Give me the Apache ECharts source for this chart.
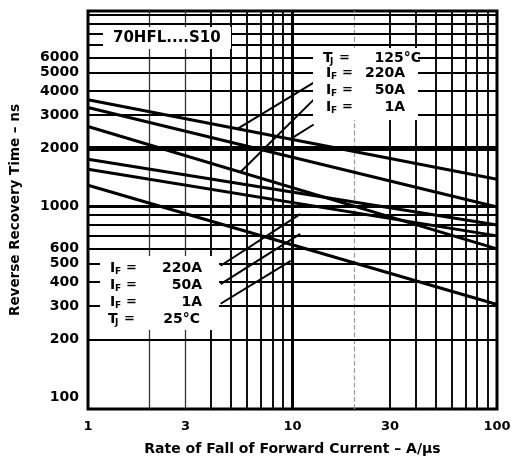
<!DOCTYPE html>
<html><head><meta charset="utf-8">
<script src="https://cdn.jsdelivr.net/npm/echarts@6/dist/echarts.min.js"></script>
<style>html,body{margin:0;padding:0;background:#fff}#c{width:511px;height:461px}</style>
</head><body><div id="c"></div>
<script>
// ---- data ----
const xTickLabels = [1, 3, 10, 30, 100];
const xGridThin = [2, 3];
const xGridFaint = [20];
const xGridNormal = [4, 5, 6, 7, 8, 9, 30, 40, 50, 60, 70, 80, 90];
const xGridThick = [10];
const xEdges = [1, 100];
const yTickLabels = [100, 200, 300, 400, 500, 600, 1000, 2000, 3000, 4000, 5000, 6000];
const yGridNormal = [200, 300, 400, 500, 600, 700, 800, 900, 3000, 4000, 5000, 6000, 7000, 8000, 9000, 10000];
const yGridMid = [1000];
const yGridThick = [2000];
const yEdge = [100];
// rate of fall of forward current (A/us) at the two ends of each straight log-log line
const rate = [1, 100];
// reverse recovery time (ns)
const curve1 = [3606, 1383];
const curve2 = [3281, 988];
const curve3 = [2610, 597];
const curve4 = [1758, 796];
const curve5 = [1559, 698];
const curve6 = [1286, 305];
// leader lines: [rate, time] pairs
const leaderUp220 = [[12.7, 4426], [5.4, 2541]];
const leaderUp50 = [[12.7, 3606], [5.57, 1507]];
const leaderUp1 = [[12.7, 2672], [9.8, 2245]];
const leaderLo220 = [[4.45, 487], [10.9, 908]];
const leaderLo50 = [[4.45, 390], [10.9, 715]];
const leaderLo1 = [[4.45, 308], [9.8, 517]];

// ---- chart ----
const chart = echarts.init(document.getElementById('c'), null, {renderer: 'canvas'});
const FONT = 'DejaVu Sans';
const lbl = {fontFamily: FONT, fontWeight: 'bold', color: '#000'};

function vLines(vals, style, showLabel) {
  return vals.map(v => ({xAxis: v, lineStyle: style,
    label: {show: showLabel && xTickLabels.includes(v)}}));
}
function hLines(vals, style) {
  return vals.map(v => ({yAxis: v, lineStyle: style,
    label: {show: yTickLabels.includes(v)}}));
}
const curves = [curve1, curve2, curve3, curve4, curve5, curve6].map(c => ({
  type: 'line', data: rate.map((r, i) => [r, c[i]]), symbol: 'none',
  lineStyle: {color: '#000', width: 3}, z: 5, animation: false
}));
const leaders = [leaderUp220, leaderUp50, leaderUp1, leaderLo220, leaderLo50, leaderLo1].map(d => ({
  type: 'line', data: d, symbol: 'none', lineStyle: {color: '#000', width: 2}, z: 5, animation: false
}));

const option = {
  animation: false,
  backgroundColor: '#fff',
  grid: {left: 87, right: 14, top: 11, bottom: 50, show: true, borderColor: '#000', borderWidth: 3, backgroundColor: 'transparent'},
  xAxis: {type: 'log', logBase: 10, min: 1, max: 100,
    axisLabel: {show: false}, axisTick: {show: false}, splitLine: {show: false}, axisLine: {show: false},
    name: 'Rate of Fall of Forward Current \u2013 A/\u00b5s', nameLocation: 'middle', nameGap: 33,
    nameTextStyle: Object.assign({fontSize: 14}, lbl)},
  yAxis: {type: 'log', logBase: 10, min: 86.6, max: 10500,
    axisLabel: {show: false}, axisTick: {show: false}, splitLine: {show: false}, axisLine: {show: false},
    name: 'Reverse Recovery Time \u2013 ns', nameLocation: 'middle', nameGap: 66, nameRotate: 90,
    nameTextStyle: Object.assign({fontSize: 13.5}, lbl)},
  series: [
    {type: 'line', data: [], silent: true, z: 2,
      markLine: {silent: true, symbol: 'none', animation: false,
        label: Object.assign({position: 'start', distance: 11, fontSize: 13, formatter: p => String(p.value)}, lbl),
        data: [].concat(
          vLines(xGridThin, {color: '#333', width: 1.3, type: 'solid'}, true),
          vLines(xGridFaint, {color: '#999', width: 1.2, type: 'dashed'}, true),
          vLines(xGridNormal, {color: '#111', width: 2, type: 'solid'}, true),
          vLines(xGridThick, {color: '#000', width: 3, type: 'solid'}, true),
          vLines(xEdges, {color: '#000', width: 0, type: 'solid'}, true)
        )}},
    {type: 'line', data: [], silent: true, z: 2,
      markLine: {silent: true, symbol: 'none', animation: false,
        label: Object.assign({position: 'start', distance: 9, fontSize: 14, formatter: p => String(p.value)}, lbl),
        data: [].concat(
          hLines(yGridNormal, {color: '#000', width: 2, type: 'solid'}),
          hLines(yGridMid, {color: '#000', width: 3, type: 'solid'}),
          hLines(yGridThick, {color: '#000', width: 5, type: 'solid'}),
          hLines(yEdge, {color: '#000', width: 0, type: 'solid'})
        )}}
  ].concat(curves, leaders),
  graphic: [
    {type: 'rect', z: 100, shape: {x: 103, y: 27, width: 128, height: 22}, style: {fill: '#fff'}},
    {type: 'text', z: 101, x: 113, y: 38, style: {text: '70HFL....S10', fontSize: 15, fontFamily: FONT, fontWeight: 'bold', verticalAlign: 'middle', fill: '#000'}},
    {type: 'rect', z: 100, shape: {x: 313, y: 48, width: 105, height: 72}, style: {fill: '#fff'}},
    {type: 'rect', z: 100, shape: {x: 100, y: 256, width: 119, height: 74}, style: {fill: '#fff'}}
  ]
};

// annotation text blocks with subscripts
function addLabel(x, y, main, sub, value, valueRight) {
  const st = {fontFamily: FONT, fontWeight: 'bold', fill: '#000', verticalAlign: 'middle'};
  option.graphic.push({type: 'text', z: 101, x: x, y: y, style: Object.assign({text: main, fontSize: 14}, st)});
  option.graphic.push({type: 'text', z: 101, x: x + (main === 'T' ? 7 : 5), y: y + 4, style: Object.assign({text: sub, fontSize: 9}, st)});
  option.graphic.push({type: 'text', z: 101, x: x + 16, y: y, style: Object.assign({text: '=', fontSize: 13}, st)});
  option.graphic.push({type: 'text', z: 101, x: valueRight, y: y, style: Object.assign({text: value, fontSize: 14, align: 'right'}, st)});
}
addLabel(323, 58, 'T', 'J', '125\u00b0C', 421);
addLabel(326, 73, 'I', 'F', '220A', 405);
addLabel(326, 90, 'I', 'F', '50A', 405);
addLabel(326, 107, 'I', 'F', '1A', 405);
addLabel(110, 268, 'I', 'F', '220A', 202);
addLabel(110, 285, 'I', 'F', '50A', 202);
addLabel(110, 302, 'I', 'F', '1A', 202);
addLabel(108, 319, 'T', 'J', '25\u00b0C', 200);

chart.setOption(option);
</script></body></html>
